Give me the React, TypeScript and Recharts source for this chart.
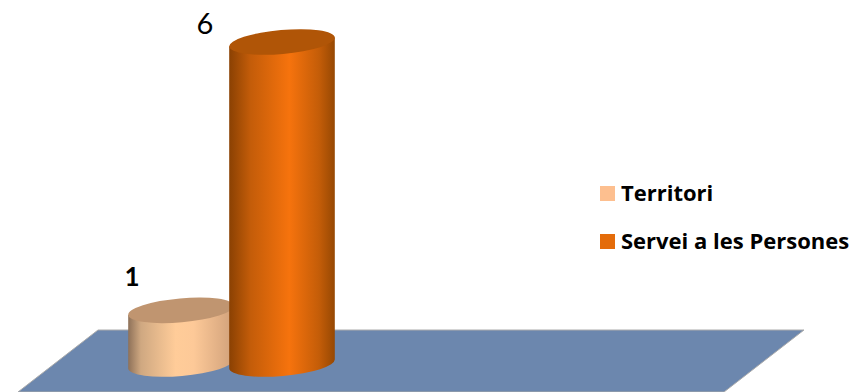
import React from "react";
import { BarChart, Bar, XAxis, YAxis, LabelList, Customized } from "recharts";

const categories = ["Total"];
const seriesNames = ["Territori", "Servei a les Persones"];
const territoriValues = [1];
const serveiValues = [6];
const FONT = "Lato, 'Open Sans', sans-serif";
const LEGEND_FONT = "'Open Sans', sans-serif";

const rows = categories.map((name, i) => ({
  name,
  territori: territoriValues[i],
  servei: serveiValues[i],
}));

// Tilted ellipse parameters shared by both cylinders.
const TILT = 5;
const RAD = (TILT * Math.PI) / 180;
const RY = 12;

function cylinder(gradient: string, topColor: string) {
  return (props: any) => {
    const { x, y, width, height } = props;
    const rx = width / 2;
    const cx = x + rx;
    const dy = rx * Math.sin(RAD);
    const dx = rx * Math.cos(RAD);
    const bottom = y + height;
    const body =
      `M${cx - dx},${y + dy} L${cx - dx},${bottom + dy} ` +
      `A${rx},${RY} ${-TILT} 0 0 ${cx + dx},${bottom - dy} ` +
      `L${cx + dx},${y - dy} Z`;
    return (
      <g>
        <path d={body} fill={`url(#${gradient})`} />
        <ellipse
          cx={cx}
          cy={y}
          rx={rx}
          ry={RY}
          fill={topColor}
          transform={`rotate(${-TILT} ${cx} ${y})`}
        />
      </g>
    );
  };
}

function Floor() {
  return (
    <polygon
      points="98,330 804,330 724,392 18,392"
      fill="#6C87AE"
      stroke="#ABABAB"
      strokeWidth={1}
    />
  );
}

function valueLabel(dx: number, dy: number, size: number, weight: number) {
  return (props: any) => (
    <text
      x={props.x + dx}
      y={props.y + dy}
      textAnchor="middle"
      fontFamily={FONT}
      fontSize={size}
      fontWeight={weight}
      fill="#000"
    >
      {props.value}
    </text>
  );
}

const swatches = ["#FDBF8F", "#E46C0A"];

function LegendBlock() {
  return (
    <g>
      {seriesNames.map((name, i) => (
        <g key={name}>
          <rect x={600} y={186 + i * 48} width={15} height={15} fill={swatches[i]} />
          <text
            x={621}
            y={201 + i * 48}
            fontFamily={LEGEND_FONT}
            fontSize={22}
            fontWeight={700}
            fill="#000"
          >
            {name}
          </text>
        </g>
      ))}
    </g>
  );
}

export default function App() {
  return (
    <div style={{ position: "absolute", left: 0, top: 0, width: 858, height: 392, overflow: "hidden", background: "#fff" }}>
      <BarChart
        width={858}
        height={392}
        data={rows}
        margin={{ top: 42, bottom: 28, left: 30, right: 425 }}
        barSize={106}
        barGap={-5}
      >
        <defs>
          <linearGradient id="gradTerritori" x1="0" x2="1" y1="0" y2="0">
            <stop offset="0" stopColor="#8E7159" />
            <stop offset="0.12" stopColor="#CFA881" />
            <stop offset="0.45" stopColor="#FFCC99" />
            <stop offset="0.62" stopColor="#FDC998" />
            <stop offset="0.95" stopColor="#D6A67E" />
            <stop offset="1" stopColor="#C99C77" />
          </linearGradient>
          <linearGradient id="gradServei" x1="0" x2="1" y1="0" y2="0">
            <stop offset="0" stopColor="#8A4103" />
            <stop offset="0.2" stopColor="#C35C09" />
            <stop offset="0.57" stopColor="#F6730D" />
            <stop offset="0.85" stopColor="#C45D08" />
            <stop offset="1" stopColor="#964803" />
          </linearGradient>
        </defs>
        <Customized component={Floor} />
        <XAxis dataKey="name" hide />
        <YAxis hide domain={[0, 6]} />
        <Bar dataKey="territori" isAnimationActive={false} shape={cylinder("gradTerritori", "#C09570")}>
          <LabelList dataKey="territori" content={valueLabel(4, -24, 26, 700)} />
        </Bar>
        <Bar dataKey="servei" isAnimationActive={false} shape={cylinder("gradServei", "#B05507")}>
          <LabelList dataKey="servei" content={valueLabel(-24, -8, 29, 400)} />
        </Bar>
        <Customized component={LegendBlock} />
      </BarChart>
    </div>
  );
}
